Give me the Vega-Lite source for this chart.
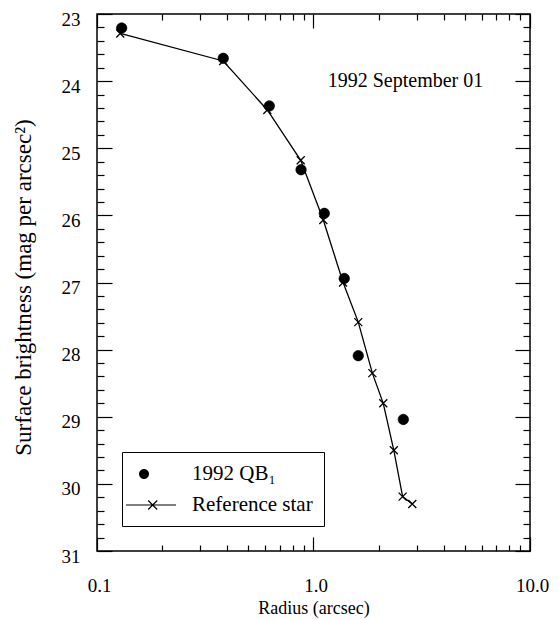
{
  "$schema": "https://vega.github.io/schema/vega-lite/v6.json",
  "width": 433,
  "height": 537,
  "autosize": {"type": "none"},
  "padding": {"left": 97, "top": 14, "right": 29, "bottom": 69},
  "background": "white",
  "data": {
    "values": [
      {"series": "1992 QB₁", "r": 0.130, "sb": 23.21},
      {"series": "1992 QB₁", "r": 0.383, "sb": 23.66},
      {"series": "1992 QB₁", "r": 0.625, "sb": 24.37},
      {"series": "1992 QB₁", "r": 0.876, "sb": 25.32},
      {"series": "1992 QB₁", "r": 1.122, "sb": 25.97},
      {"series": "1992 QB₁", "r": 1.387, "sb": 26.94},
      {"series": "1992 QB₁", "r": 1.61, "sb": 28.09},
      {"series": "1992 QB₁", "r": 2.60, "sb": 29.04},
      {"series": "Reference star", "r": 0.128, "sb": 23.29},
      {"series": "Reference star", "r": 0.383, "sb": 23.70},
      {"series": "Reference star", "r": 0.612, "sb": 24.43},
      {"series": "Reference star", "r": 0.873, "sb": 25.18},
      {"series": "Reference star", "r": 1.11, "sb": 26.07},
      {"series": "Reference star", "r": 1.37, "sb": 27.0},
      {"series": "Reference star", "r": 1.61, "sb": 27.59},
      {"series": "Reference star", "r": 1.87, "sb": 28.35},
      {"series": "Reference star", "r": 2.10, "sb": 28.80},
      {"series": "Reference star", "r": 2.35, "sb": 29.50},
      {"series": "Reference star", "r": 2.58, "sb": 30.19},
      {"series": "Reference star", "r": 2.86, "sb": 30.30}
    ]
  },
  "layer": [
    {
      "mark": {"type": "point", "opacity": 0},
      "encoding": {
        "x": {
          "field": "r", "type": "quantitative",
          "scale": {"type": "log", "domain": [0.1, 10], "nice": false},
          "axis": {
            "orient": "top", "tickCount": 200,
            "values": [0.1,0.2,0.3,0.4,0.5,0.6,0.7,0.8,0.9,1,2,3,4,5,6,7,8,9,10],
            "title": null, "labels": false, "domain": false, "grid": false,
            "tickColor": "black", "tickWidth": 1.2,
            "tickSize": {"condition": {"test": "abs(log(datum.value)/LN10 - round(log(datum.value)/LN10)) < 0.001", "value": -14}, "value": -6}
          }
        },
        "y": {
          "field": "sb", "type": "quantitative",
          "scale": {"domain": [23, 31], "reverse": true, "nice": false, "zero": false},
          "axis": {
            "orient": "right", "tickCount": 200,
            "values": [23,23.2,23.4,23.6,23.8,24,24.2,24.4,24.6,24.8,25,25.2,25.4,25.6,25.8,26,26.2,26.4,26.6,26.8,27,27.2,27.4,27.6,27.8,28,28.2,28.4,28.6,28.8,29,29.2,29.4,29.6,29.8,30,30.2,30.4,30.6,30.8,31],
            "title": null, "labels": false, "domain": false, "grid": false,
            "tickColor": "black", "tickWidth": 1.2,
            "tickSize": {"condition": {"test": "abs(datum.value - round(datum.value)) < 0.01", "value": -15}, "value": -7}
          }
        }
      }
    },
    {
      "layer": [
        {
          "transform": [{"filter": "datum.series === 'Reference star'"}],
          "mark": {"type": "line", "color": "black", "strokeWidth": 1.3},
          "encoding": {
            "x": {
              "field": "r", "type": "quantitative",
              "scale": {"type": "log", "domain": [0.1, 10], "nice": false},
              "axis": {
                "orient": "bottom", "tickCount": 200,
                "values": [0.1,0.2,0.3,0.4,0.5,0.6,0.7,0.8,0.9,1,2,3,4,5,6,7,8,9,10],
                "title": "Radius (arcsec)",
                "domain": false, "grid": false,
                "tickColor": "black", "tickWidth": 1.2,
                "tickSize": {"condition": {"test": "abs(log(datum.value)/LN10 - round(log(datum.value)/LN10)) < 0.001", "value": -14}, "value": -6},
                "labelExpr": "abs(log(datum.value)/LN10 - round(log(datum.value)/LN10)) < 0.001 ? format(datum.value, '.1f') : ''",
                "labelFlush": false, "labelOverlap": false,
                "labelPadding": 39, "labelBaseline": "top", "labelOffset": 2,
                "labelFont": "Liberation Serif", "labelFontSize": 19, "labelColor": "black",
                "titleFont": "Liberation Serif", "titleFontSize": 18, "titleFontWeight": "normal", "titleColor": "black",
                "titleY": 62, "titleBaseline": "alphabetic"
              }
            },
            "y": {
              "field": "sb", "type": "quantitative",
              "scale": {"domain": [23, 31], "reverse": true, "nice": false, "zero": false},
              "axis": {
                "orient": "left", "tickCount": 200,
                "values": [23,23.2,23.4,23.6,23.8,24,24.2,24.4,24.6,24.8,25,25.2,25.4,25.6,25.8,26,26.2,26.4,26.6,26.8,27,27.2,27.4,27.6,27.8,28,28.2,28.4,28.6,28.8,29,29.2,29.4,29.6,29.8,30,30.2,30.4,30.6,30.8,31],
                "title": "Surface brightness (mag per arcsec²)",
                "domain": false, "grid": false,
                "tickColor": "black", "tickWidth": 1.2,
                "tickSize": {"condition": {"test": "abs(datum.value - round(datum.value)) < 0.01", "value": -15}, "value": -7},
                "labelExpr": "abs(datum.value - round(datum.value)) < 0.01 ? format(datum.value, 'd') : ''",
                "labelFlush": false, "labelOverlap": false,
                "labelPadding": 32, "labelOffset": 5, "labelBaseline": "middle",
                "labelFont": "Liberation Serif", "labelFontSize": 19, "labelColor": "black",
                "titleFont": "Liberation Serif", "titleFontSize": 23, "titleFontWeight": "normal", "titleColor": "black",
                "titleX": -67, "titleY": 273, "titleAngle": -90, "titleBaseline": "alphabetic", "titleAlign": "center"
              }
            }
          }
        },
        {
          "transform": [{"filter": "datum.series === '1992 QB₁'"}],
          "mark": {"type": "point", "filled": true, "fill": "black", "stroke": "black", "strokeWidth": 0.6, "size": 440, "opacity": 1},
          "encoding": {
            "x": {"field": "r", "type": "quantitative"},
            "y": {"field": "sb", "type": "quantitative"},
            "shape": {
              "field": "series", "type": "nominal",
              "scale": {
                "domain": ["1992 QB₁", "Reference star"],
                "range": [
                  "M-0.5,0A0.5,0.5,0,1,0,0.5,0A0.5,0.5,0,1,0,-0.5,0Z",
                  "M-1.8,-0.06H3.2V0.06H-1.8ZM0.46,-0.49L1.36,0.41L1.28,0.49L0.38,-0.41ZM0.38,0.41L1.28,-0.49L1.36,-0.41L0.46,0.49Z"
                ]
              },
              "legend": {
                "title": null, "orient": "none", "legendX": 25, "legendY": 438,
                "strokeColor": "black", "fillColor": "white", "padding": 11,
                "labelFont": "Liberation Serif", "labelFontSize": 21, "labelColor": "black",
                "labelOffset": 37, "rowPadding": 10, "symbolSize": 400,
                "symbolFillColor": "black", "symbolStrokeColor": "black"
              }
            }
          }
        },
        {
          "transform": [{"filter": "datum.series === 'Reference star'"}],
          "mark": {"type": "point", "shape": "M-1,-1L1,1M-1,1L1,-1", "filled": false, "stroke": "black", "strokeWidth": 1.3, "size": 64, "opacity": 1},
          "encoding": {
            "x": {"field": "r", "type": "quantitative"},
            "y": {"field": "sb", "type": "quantitative"}
          }
        },
        {
          "data": {"values": [{}]},
          "mark": {"type": "text", "text": "1992 September 01", "font": "Liberation Serif", "fontSize": 20, "align": "center", "baseline": "alphabetic", "color": "black"},
          "encoding": {
            "x": {"datum": 2.66, "type": "quantitative"},
            "y": {"datum": 24.09, "type": "quantitative"}
          }
        }
      ]
    }
  ],
  "resolve": {
    "scale": {"x": "independent", "y": "independent"},
    "axis": {"x": "independent", "y": "independent"}
  },
  "config": {
    "font": "Liberation Serif",
    "view": {"stroke": "black", "strokeWidth": 1.5}
  }
}
